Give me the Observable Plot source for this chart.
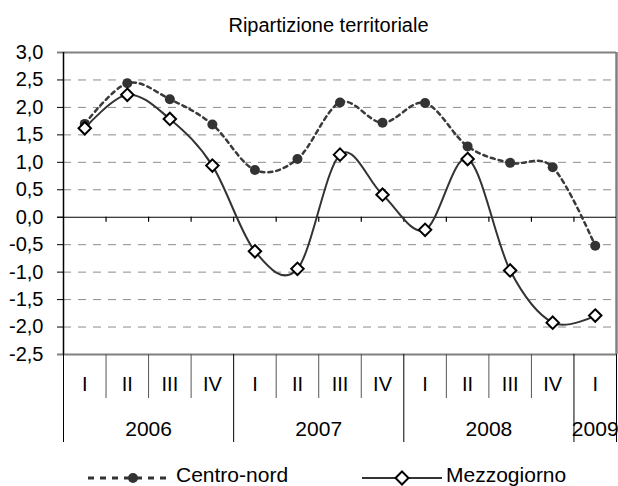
<!DOCTYPE html>
<html>
<head>
<meta charset="utf-8">
<script src="https://cdn.jsdelivr.net/npm/d3@7"></script>
<script src="https://cdn.jsdelivr.net/npm/@observablehq/plot@0.6"></script>
<style>
  html, body { margin: 0; padding: 0; background: #fff; }
  body { width: 618px; height: 486px; overflow: hidden; position: relative;
         font-family: "Liberation Sans", Arial, sans-serif; color: #000; }
  #title { height: 40px; box-sizing: border-box; padding-top: 15px; padding-left: 39px;
           line-height: 20px; font-size: 20px; text-align: center; }
  #chart svg { display: block; }
  #legend { position: absolute; left: 0; top: 450px; width: 618px; height: 36px; }
  #legend .sw { position: absolute; top: 21px; height: 14px; }
  #legend .sw svg { display: block; overflow: visible; }
  #legend .lab { position: absolute; top: 15.5px; font-size: 21px; line-height: 18px; white-space: nowrap; }
</style>
</head>
<body>
<div id="title">Ripartizione territoriale</div>
<div id="chart"></div>
<div id="legend"></div>
<script>
// ---- data ----
const quarters = ["I","II","III","IV","I","II","III","IV","I","II","III","IV","I"];
const years    = ["2006","2006","2006","2006","2007","2007","2007","2007","2008","2008","2008","2008","2009"];
const centroNord  = [1.70, 2.44, 2.15, 1.69, 0.86, 1.06, 2.09, 1.72, 2.08, 1.29, 0.99, 0.91, -0.52];
const mezzogiorno = [1.62, 2.23, 1.79, 0.94, -0.62, -0.94, 1.14, 0.41, -0.23, 1.06, -0.97, -1.92, -1.79];
const seriesNames = ["Centro-nord", "Mezzogiorno"];
const yTicks = [-2.5, -2.0, -1.5, -1.0, -0.5, 0.0, 0.5, 1.0, 1.5, 2.0, 2.5, 3.0];

// ---- derived tables ----
const n = quarters.length;
const rows = quarters.map((q, i) => ({i, q, year: years[i], cn: centroNord[i], mz: mezzogiorno[i]}));
const yearGroups = [];
years.forEach((y, i) => {
  const last = yearGroups[yearGroups.length - 1];
  if (last && last.year === y) last.end = i + 1;
  else yearGroups.push({year: y, start: i, end: i + 1});
});
const yearBounds = Array.from(new Set(yearGroups.flatMap(g => [g.start, g.end])));
const quarterBounds = d3.range(1, n).filter(b => !yearBounds.includes(b));
const innerBounds = d3.range(1, n);
const gridTicks = yTicks.filter(t => t !== 0 && t !== yTicks[0] && t !== yTicks[yTicks.length - 1]);
const fmt = d => d.toFixed(1).replace(".", ",");
const yMin = yTicks[0], yMax = yTicks[yTicks.length - 1];

const chart = Plot.plot({
  width: 618,
  height: 410,
  marginTop: 12,
  marginBottom: 96,
  marginLeft: 63,
  marginRight: 2,
  style: {fontFamily: "'Liberation Sans', Arial, sans-serif", background: "#fff", color: "#000"},
  x: {type: "linear", domain: [0, n], axis: null},
  y: {domain: [yMin, yMax], axis: null},
  marks: [
    Plot.gridY(gridTicks, {stroke: "#8c8c8c", strokeOpacity: 1, strokeDasharray: "8,7"}),
    // y axis
    Plot.axisY({ticks: yTicks, tickSize: 6, tickPadding: 14, tickFormat: fmt, fontSize: 20, stroke: "#000"}),
    // frame: top & right grey, bottom grey
    Plot.ruleY([yMax], {stroke: "#808080", strokeWidth: 2, insetLeft: -6}),
    Plot.ruleY([yMin], {stroke: "#808080", strokeWidth: 2, insetLeft: -6}),
    Plot.ruleX([n], {stroke: "#808080", strokeWidth: 2.5}),
    Plot.ruleX([0], {stroke: "#000", strokeWidth: 1.5}),
    // zero line with small ticks
    Plot.ruleY([0], {stroke: "#000", strokeWidth: 1.2, insetLeft: -6}),
    Plot.ruleX(innerBounds, {y1: 0, y2: 0, insetBottom: -5, stroke: "#000", strokeWidth: 1.2}),
    // category separators below plot
    Plot.axisX({ticks: quarterBounds, tickSize: 44, tickFormat: () => "", stroke: "#555"}),
    Plot.axisX({ticks: yearBounds, tickSize: 88, tickFormat: () => "", stroke: "#000"}),
    // category labels
    Plot.text(rows, {x: d => d.i + 0.5, text: "q", frameAnchor: "bottom", dy: 30, lineAnchor: "middle", fontSize: 20, fill: "#000"}),
    Plot.text(yearGroups, {x: d => (d.start + d.end) / 2, text: "year", frameAnchor: "bottom", dy: 75, lineAnchor: "middle", fontSize: 21, fill: "#000"}),
    // Centro-nord
    Plot.line(rows, {x: d => d.i + 0.5, y: "cn", curve: "cardinal", stroke: "#3a3a3a", strokeWidth: 2.5, strokeDasharray: "4,4"}),
    Plot.dot(rows, {x: d => d.i + 0.5, y: "cn", r: 5, fill: "#333", stroke: "none"}),
    // Mezzogiorno
    Plot.line(rows, {x: d => d.i + 0.5, y: "mz", curve: "cardinal", stroke: "#333", strokeWidth: 2}),
    Plot.dot(rows, {x: d => d.i + 0.5, y: "mz", symbol: "diamond2", r: 5.6, fill: "#fff", stroke: "#000", strokeWidth: 2})
  ]
});
document.getElementById("chart").appendChild(chart);

// ---- legend ----
const legend = document.getElementById("legend");
const legendItems = [
  {name: seriesNames[0], left: 88, w: 84, dash: "6,6", marker: `<circle cx="45" cy="7" r="5" fill="#333"/>`, sw: 3},
  {name: seriesNames[1], left: 362, w: 80, dash: null, marker: `<path d="M40,0.5 L46.5,7 L40,13.5 L33.5,7 Z" fill="#fff" stroke="#000" stroke-width="2"/>`, sw: 2}
];
legendItems.forEach(it => {
  const sw = document.createElement("span");
  sw.className = "sw";
  sw.style.left = it.left + "px";
  sw.innerHTML = `<svg width="${it.w}" height="14"><line x1="0" x2="${it.w}" y1="7" y2="7" stroke="#333" stroke-width="${it.sw}" ${it.dash ? `stroke-dasharray="${it.dash}"` : ""}/>${it.marker}</svg>`;
  legend.appendChild(sw);
  const lab = document.createElement("span");
  lab.className = "lab";
  lab.style.left = (it.left + it.w + 4) + "px";
  lab.textContent = it.name;
  legend.appendChild(lab);
});
</script>
</body>
</html>
